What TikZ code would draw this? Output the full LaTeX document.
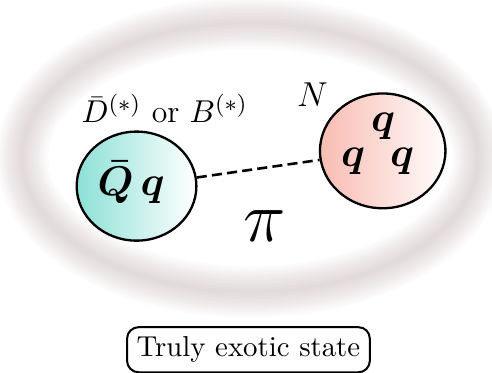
\documentclass[tikz,border=0pt]{standalone}
\usepackage{amsmath}
\usepackage{bm}
\usepackage{xcolor}
\usepackage{tikz}
\usetikzlibrary{shapes.geometric, positioning}
\definecolor{mycyan}{RGB}{140,224,214}
\definecolor{mysalmon}{RGB}{248,188,178}
\definecolor{myhalo}{RGB}{190,172,172}
\tikzset{
  mesonball/.style={ellipse, draw=black, line width=0.8pt,
    left color=mycyan, right color=white,
    minimum width=1.46cm, minimum height=1.33cm, inner sep=0pt},
  nucleonball/.style={ellipse, draw=black, line width=0.8pt,
    left color=mysalmon, right color=white!96!mysalmon,
    minimum width=1.53cm, minimum height=1.40cm, inner sep=0pt},
  pionline/.style={line width=0.9pt, dash pattern=on 3.5pt off 1.8pt},
  halo/.style={draw=myhalo, opacity=0.03},
  quark/.style={font=\Large, anchor=base, inner sep=0pt},
  statebox/.style={rectangle, draw=black, rounded corners=4pt, line width=0.7pt}
}

\begin{document}
\begin{tikzpicture}
  \useasboundingbox (0,0) rectangle (6.0,4.54);
  % blurred ring
  \foreach \w in {1,...,18}
    \draw[halo, line width=\w*1pt] (3.05,2.62) ellipse (2.78 and 1.64);

  \node[mesonball] (meson) at (1.665,2.27) {};
  \node[nucleonball] (nucleon) at (4.667,2.70) {};
  \draw[pionline] (meson) -- (nucleon);

  \node[quark] (qbarq) at (1.60,2.16) {$\bm{\bar{Q}\,q}$};
  \node[quark] (qtop) at (4.673,2.94) {$\bm{q}$};
  \node[quark] (qleft) at (4.307,2.51) {$\bm{q}$};
  \node[quark] (qright) at (4.904,2.51) {$\bm{q}$};

  \node[font=\fontsize{11}{13}\selectfont, anchor=base, inner sep=0pt] (mesonlabel) at (2.01,3.04) {$\bar{D}^{(*)}$\ or\ $B^{(*)}$};
  \node[font=\fontsize{13}{15}\selectfont, anchor=base, inner sep=0pt] (nlabel) at (3.81,3.24) {$N$};
  \node[font=\fontsize{31}{37}\selectfont, anchor=base, inner sep=0pt] (pilabel) at (3.23,1.59) {$\pi$};

  \node[statebox] (state) at (3.03,0.275) {Truly exotic state};
\end{tikzpicture}
\end{document}
